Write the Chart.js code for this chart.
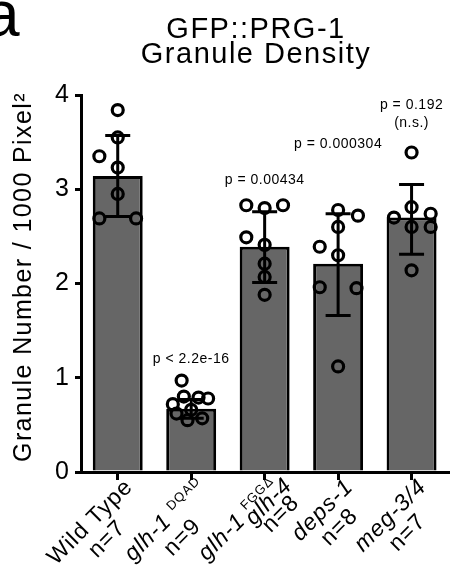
<!DOCTYPE html>
<html>
<head>
<meta charset="utf-8">
<script src="https://cdn.jsdelivr.net/npm/chart.js@4.4.0/dist/chart.umd.min.js"></script>
<style>
  html, body { margin: 0; padding: 0; background: #fff; }
  #wrap { width: 457px; height: 575px; position: relative; }
</style>
</head>
<body>
<div id="wrap"><canvas id="granuleChart" width="457" height="575"></canvas></div>
<script>
// values
const categories = ["Wild Type", "glh-1 DQAD", "glh-1 FGGΔ glh-4", "deps-1", "meg-3/4"];
const sampleSizes = [7, 9, 8, 8, 7];
const means = [3.14, 0.67, 2.39, 2.21, 2.70];
const sdLow = [2.71, 0.57, 2.01, 1.66, 2.31];
const sdHigh = [3.57, 0.77, 2.76, 2.74, 3.05];
const yTicks = [0, 1, 2, 3, 4];

const wildType = [3.84, 3.55, 3.35, 3.23, 2.95, 2.69, 2.69];
const glh1DQAD = [0.97, 0.80, 0.79, 0.78, 0.72, 0.66, 0.62, 0.57, 0.55];
const glh1FGGglh4 = [2.83, 2.80, 2.83, 2.49, 2.41, 2.21, 2.07, 1.88];
const deps1 = [2.78, 2.72, 2.60, 2.39, 2.30, 1.96, 1.95, 1.12];
const meg34 = [3.39, 2.81, 2.74, 2.70, 2.60, 2.60, 2.14];

const pValues = ["", "p < 2.2e-16", "p = 0.00434", "p = 0.000304", "p = 0.192"];
const pNotes = ["", "", "", "", "(n.s.)"];

// layout only: sideways spread of the dots (category units) and label heights (axis units)
const jitter = [
  [0, 0, -0.25, 0, 0, -0.25, 0.25],
  [-0.13, -0.1, 0.1, 0.23, -0.25, 0.0, -0.2, 0.15, -0.05],
  [-0.25, 0, 0.25, -0.25, 0, 0, 0, 0],
  [0, 0.27, 0, -0.25, 0, -0.25, 0.25, 0],
  [0, 0, 0.26, -0.24, 0, 0.26, 0]
];
const pLabelAt = [null, 1.16, 3.06, 3.44, 3.85];

const groups = [wildType, glh1DQAD, glh1FGGglh4, deps1, meg34];
const dots = [];
groups.forEach((vals, i) => {
  vals.forEach((v, j) => dots.push({ x: i + jitter[i][j], y: v }));
});

const FONT = "'Liberation Sans', Arial, Helvetica, sans-serif";

// x labels as rich text: lines of [text, style] segments.
// "after" puts a line right behind a segment of line 0, "under" centres it on the previous line
const xLabels = [
  [{ segs: [["Wild Type", "n"]] }, { segs: [["n=" + sampleSizes[0], "n"]] }],
  [{ segs: [["glh-1", "i"], [" ", "n"], ["DQAD", "s"]] }, { segs: [["n=" + sampleSizes[1], "n"]] }],
  [
    { segs: [["glh-1", "i"], [" ", "n"], ["FGGΔ", "s"]] },
    { segs: [["glh-4", "i"]], after: 0, dy: 8 },
    { segs: [["n=" + sampleSizes[2], "n"]], under: true, dy: 17 }
  ],
  [{ segs: [["deps-1", "i"]] }, { segs: [["n=" + sampleSizes[3], "n"]] }],
  [{ segs: [["meg-3/4", "i"]] }, { segs: [["n=" + sampleSizes[4], "n"]] }]
];

function segFont(style) {
  if (style === "i") return "italic 23px " + FONT;
  if (style === "s") return "13px " + FONT;
  return "23px " + FONT;
}

function segWidths(ctx, segs) {
  return segs.map(seg => {
    ctx.font = segFont(seg[1]);
    return ctx.measureText(seg[0]).width;
  });
}

const errorBarPlugin = {
  id: "errorBars",
  afterDatasetDraw(chart, args) {
    if (args.meta.type !== "bar") return;
    const ctx = chart.ctx;
    const x = chart.scales.x;
    const y = chart.scales.y;
    ctx.save();
    ctx.strokeStyle = "#000";
    ctx.lineWidth = 3;
    means.forEach((m, i) => {
      const px = x.getPixelForValue(i);
      const top = y.getPixelForValue(sdHigh[i]);
      const bot = y.getPixelForValue(sdLow[i]);
      ctx.beginPath();
      ctx.moveTo(px, top);
      ctx.lineTo(px, bot);
      ctx.moveTo(px - 12.5, top);
      ctx.lineTo(px + 12.5, top);
      ctx.moveTo(px - 12.5, bot);
      ctx.lineTo(px + 12.5, bot);
      ctx.stroke();
    });
    ctx.restore();
  }
};

const textPlugin = {
  id: "figureText",
  afterDraw(chart) {
    const ctx = chart.ctx;
    const x = chart.scales.x;
    const y = chart.scales.y;
    ctx.save();
    ctx.fillStyle = "#000";

    // panel letter
    ctx.font = "64px " + FONT;
    ctx.textAlign = "left";
    ctx.textBaseline = "alphabetic";
    ctx.fillText("a", -16, 36);

    // title
    ctx.font = "29px " + FONT;
    ctx.letterSpacing = "1.5px";
    ctx.textAlign = "center";
    ctx.fillText("GFP::PRG-1", 256, 38);
    ctx.fillText("Granule Density", 256, 63);

    // y axis title
    ctx.save();
    ctx.font = "25px " + FONT;
    ctx.letterSpacing = "1.4px";
    ctx.translate(24, 277);
    ctx.rotate(-Math.PI / 2);
    ctx.textBaseline = "middle";
    ctx.fillText("Granule Number / 1000 Pixel²", 0, 0);
    ctx.restore();

    // p values
    ctx.font = "14px " + FONT;
    ctx.letterSpacing = "0.5px";
    ctx.textBaseline = "alphabetic";
    pValues.forEach((t, i) => {
      if (!t) return;
      const px = x.getPixelForValue(i);
      const py = y.getPixelForValue(pLabelAt[i]);
      ctx.fillText(t, px, py);
      if (pNotes[i]) ctx.fillText(pNotes[i], px, py + 18);
    });

    // rotated x labels
    ctx.letterSpacing = "1px";
    const lh = 24;
    xLabels.forEach((lines, i) => {
      const sw = lines.map(line => segWidths(ctx, line.segs));
      const widths = sw.map(w => w.reduce((a, b) => a + b, 0));
      const blockW = Math.max(...lines.map((l, k) => (l.after === undefined && !l.under ? widths[k] : 0)));
      ctx.save();
      ctx.translate(x.getPixelForValue(i) + 4, y.bottom + 4);
      ctx.rotate(-Math.PI / 4);
      ctx.textAlign = "left";
      let base = 17;
      let prevStart = 0;
      let prevW = 0;
      lines.forEach((line, k) => {
        let start;
        if (k > 0) base += line.dy !== undefined ? line.dy : lh;
        if (line.after !== undefined) {
          start = -blockW / 2 - widths[line.after] / 2 + sw[line.after][0] + 2;
        } else if (line.under) {
          start = prevStart + prevW / 2 - widths[k] / 2;
        } else {
          start = -blockW / 2 - widths[k] / 2;
        }
        let cx = start;
        line.segs.forEach((seg, s) => {
          ctx.font = segFont(seg[1]);
          ctx.fillText(seg[0], cx, seg[1] === "s" ? base - 9 : base);
          cx += sw[k][s];
        });
        prevStart = start;
        prevW = widths[k];
      });
      ctx.restore();
    });
    ctx.restore();
  }
};

new Chart(document.getElementById("granuleChart"), {
  type: "bar",
  data: {
    labels: categories,
    datasets: [
      {
        type: "bar",
        data: means,
        backgroundColor: "#666666",
        borderColor: "#000",
        borderWidth: 3,
        borderSkipped: "start",
        grouped: false,
        categoryPercentage: 1,
        barPercentage: 0.68,
        order: 1
      },
      {
        type: "scatter",
        data: dots,
        xAxisID: "xp",
        pointStyle: "circle",
        pointRadius: 5.5,
        pointBorderWidth: 3.2,
        pointBorderColor: "#000",
        pointBackgroundColor: "rgba(0,0,0,0)",
        showLine: false,
        order: 0
      }
    ]
  },
  options: {
    responsive: false,
    animation: false,
    layout: { padding: { top: 95, right: 0, bottom: 0, left: 0 } },
    plugins: {
      legend: { display: false },
      tooltip: { enabled: false },
      title: { display: false }
    },
    scales: {
      x: {
        type: "category",
        offset: true,
        grid: { display: true, drawOnChartArea: false, offset: false, tickLength: 8, lineWidth: 3, color: "#000" },
        border: { display: true, color: "#000", width: 3 },
        ticks: { display: false },
        afterFit: (scale) => { scale.height = 103; }
      },
      xp: {
        type: "linear",
        display: false,
        offset: false,
        grace: 0,
        min: -0.5,
        max: 4.5
      },
      y: {
        min: 0,
        max: 4,
        afterBuildTicks: (scale) => { scale.ticks = yTicks.map(v => ({ value: v })); },
        ticks: { color: "#000", font: { family: FONT, size: 25 }, padding: 6 },
        grid: { display: true, drawOnChartArea: false, tickLength: 6, lineWidth: 3, color: "#000" },
        border: { display: true, color: "#000", width: 3 },
        afterFit: (scale) => { scale.width = 81; }
      }
    }
  },
  plugins: [errorBarPlugin, textPlugin]
});
</script>
</body>
</html>
